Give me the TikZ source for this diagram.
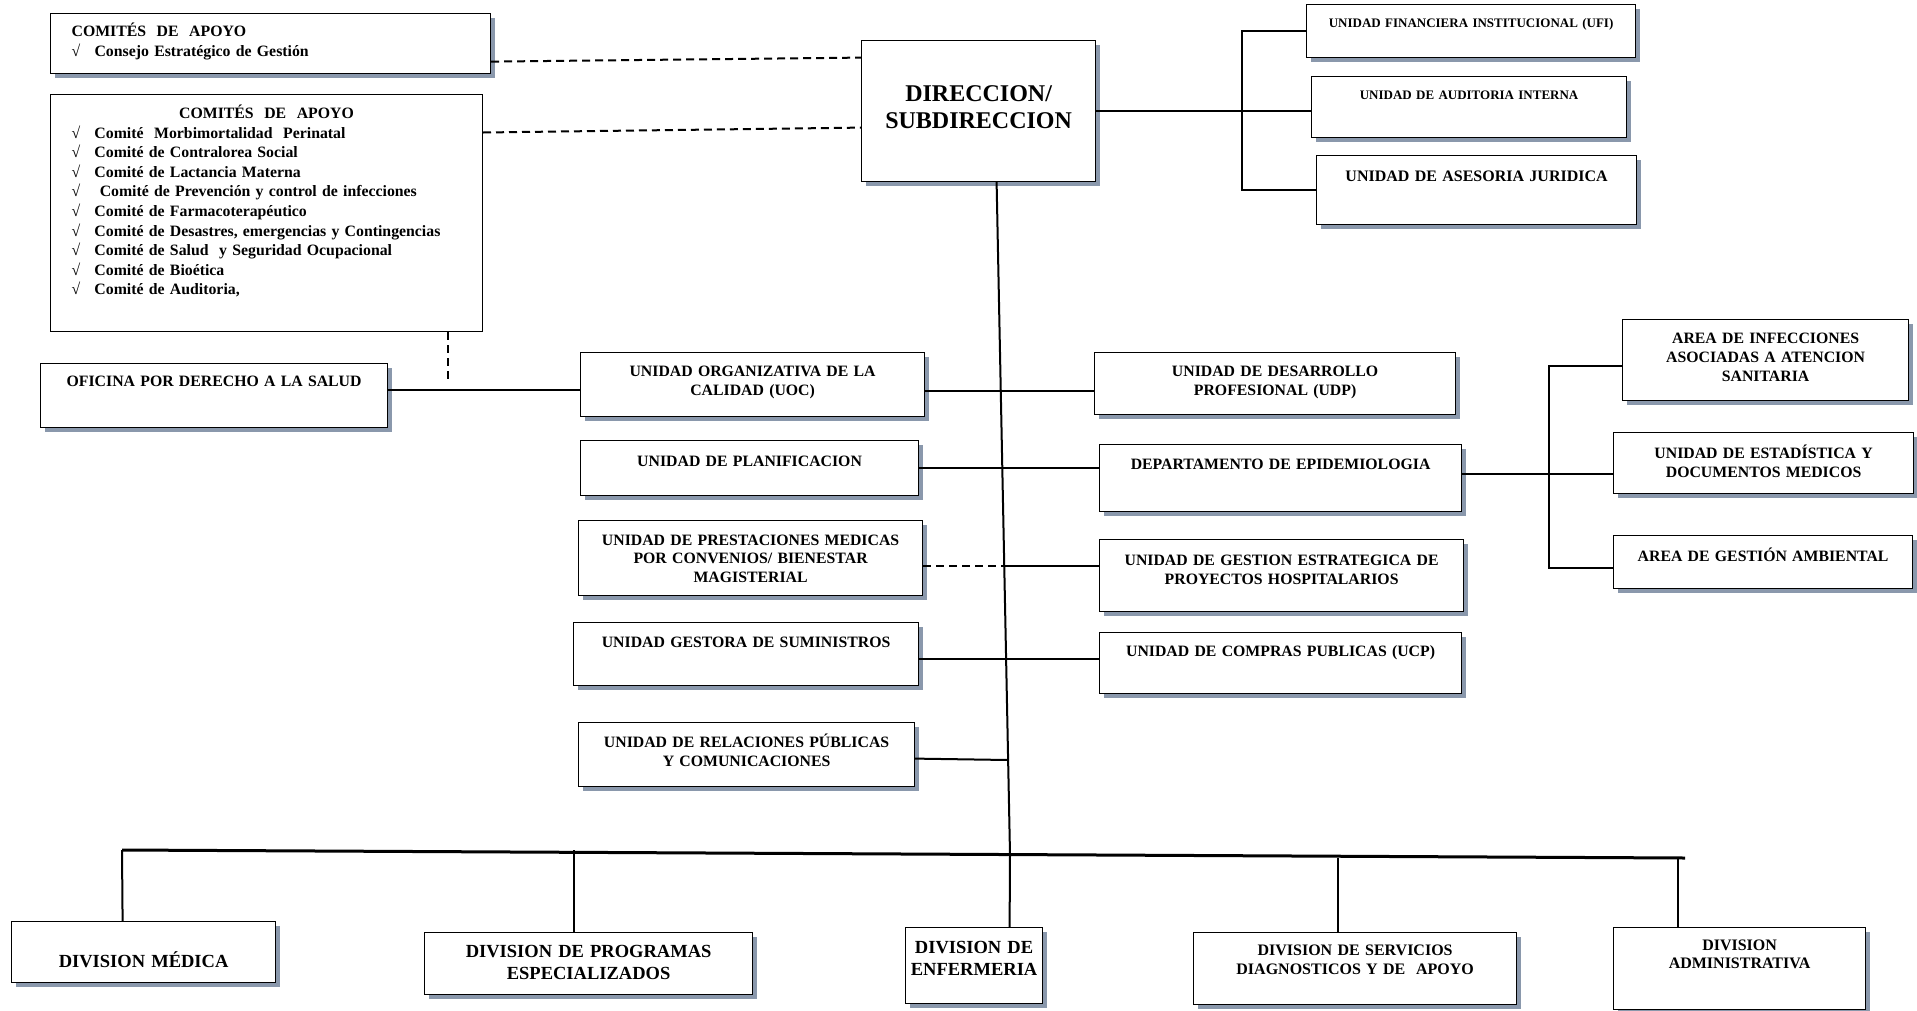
\documentclass[tikz,border=0pt]{standalone}
\usepackage{fontspec}
\setmainfont{Liberation Serif}
\usetikzlibrary{shadows}

\definecolor{shadowblue}{RGB}{138,152,172}

\begin{document}
\begin{tikzpicture}[x=1pt, y=-1pt,
  every node/.style={font=\bfseries\fontsize{15.8}{19}\selectfont},
  basebox/.style={draw, line width=1.2pt, fill=white, align=center, inner sep=0pt, anchor=north west},
  unitbox/.style={basebox, drop shadow={shadow xshift=4pt, shadow yshift=-4pt, fill=shadowblue, opacity=1}},
  combox/.style={align=left, inner xsep=21pt, font=\bfseries\fontsize{15.8}{19.6}\selectfont},
  divbig/.style={font=\bfseries\fontsize{18.5}{22}\selectfont},
  divsmall/.style={font=\bfseries\fontsize{16}{19}\selectfont},
  link/.style={line width=2pt},
  dotlink/.style={line width=2pt, dash pattern=on 8pt off 5pt}]
	\useasboundingbox (0,0) rectangle (1917,1010);

	% comites y direccion
	\node[unitbox, combox, text width=398pt, text height=23pt, text depth=37pt] (com1) at (50,13)
		{COMITÉS~ DE~ APOYO\\\makebox[23pt][l]{√}Consejo Estratégico de Gestión};
	\node[basebox, combox, line width=1pt, text width=390pt, text height=24pt, text depth=213pt] (com2) at (50,94)
		{\makebox[\linewidth]{COMITÉS~ DE~ APOYO}\\
		\makebox[23pt][l]{√}Comité~ Morbimortalidad~ Perinatal\\
		\makebox[23pt][l]{√}Comité de Contralorea Social\\
		\makebox[23pt][l]{√}Comité de Lactancia Materna\\
		\makebox[23pt][l]{√}\ Comité de Prevención y control de infecciones\\
		\makebox[23pt][l]{√}Comité de Farmacoterapéutico\\
		\makebox[23pt][l]{√}Comité de Desastres, emergencias y Contingencias\\
		\makebox[23pt][l]{√}Comité de Salud~ y Seguridad Ocupacional\\
		\makebox[23pt][l]{√}Comité de Bioética\\
		\makebox[23pt][l]{√}Comité de Auditoria,};
	\node[unitbox, text width=347pt, text height=23pt, text depth=41pt] (ofi) at (40,363) {OFICINA POR DERECHO A LA SALUD};
	\node[unitbox, text width=234pt, text height=61pt, text depth=80pt, font=\bfseries\fontsize{24}{27}\selectfont] (dir) at (861,40) {DIRECCION/\\SUBDIRECCION};

	% unidades staff
	\node[unitbox, text width=329pt, text height=22.5pt, text depth=30.5pt, font=\bfseries\fontsize{13}{16}\selectfont] (ufi) at (1306,4) {UNIDAD FINANCIERA INSTITUCIONAL (UFI)};
	\node[unitbox, text width=315pt, text height=22.5pt, text depth=38.5pt, font=\bfseries\fontsize{13}{16}\selectfont] (aud) at (1311,76) {UNIDAD DE AUDITORIA INTERNA};
	\node[unitbox, text width=320pt, text height=25.5pt, text depth=43.5pt, font=\bfseries\fontsize{16}{19}\selectfont] (ase) at (1316,155) {UNIDAD DE ASESORIA JURIDICA};

	\node[unitbox, text width=344pt, text height=23.5pt, text depth=40.5pt] (uoc) at (580,352) {UNIDAD ORGANIZATIVA DE LA\\CALIDAD (UOC)};
	\node[unitbox, text width=338pt, text height=25.5pt, text depth=29.5pt] (plan) at (580,440) {UNIDAD DE PLANIFICACION};
	\node[unitbox, text width=344pt, text height=24.5pt, text depth=50.5pt, font=\bfseries\fontsize{15.8}{18.5}\selectfont] (pres) at (578,520) {UNIDAD DE PRESTACIONES MEDICAS\\POR CONVENIOS/ BIENESTAR\\MAGISTERIAL};
	\node[unitbox, text width=345pt, text height=24.5pt, text depth=38.5pt] (gest) at (573,622) {UNIDAD GESTORA DE SUMINISTROS};
	\node[unitbox, text width=336pt, text height=24.5pt, text depth=39.5pt] (rel) at (578,722) {UNIDAD DE RELACIONES PÚBLICAS\\Y COMUNICACIONES};

	\node[unitbox, text width=361pt, text height=23.5pt, text depth=38.5pt] (udp) at (1094,352) {UNIDAD DE DESARROLLO\\PROFESIONAL (UDP)};
	\node[unitbox, text width=362pt, text height=24.5pt, text depth=42.5pt] (epi) at (1099,444) {DEPARTAMENTO DE EPIDEMIOLOGIA};
	\node[unitbox, text width=364pt, text height=25.5pt, text depth=46.5pt] (gep) at (1099,539) {UNIDAD DE GESTION ESTRATEGICA DE\\PROYECTOS HOSPITALARIOS};
	\node[unitbox, text width=362pt, text height=23.5pt, text depth=37.5pt] (ucp) at (1099,632) {UNIDAD DE COMPRAS PUBLICAS (UCP)};

	\node[unitbox, text width=286pt, text height=23.5pt, text depth=57.5pt] (iaas) at (1622,319) {AREA DE INFECCIONES\\ASOCIADAS A ATENCION\\SANITARIA};
	\node[unitbox, text width=300pt, text height=25.5pt, text depth=35.5pt] (est) at (1613,432) {UNIDAD DE ESTADÍSTICA Y\\DOCUMENTOS MEDICOS};
	\node[unitbox, text width=299pt, text height=25.5pt, text depth=27.5pt] (amb) at (1613,535) {AREA DE GESTIÓN AMBIENTAL};

	% divisiones
	\node[unitbox, divbig, text width=264pt, text height=46pt, text depth=15pt] (dmed) at (11,921) {DIVISION MÉDICA};
	\node[unitbox, divbig, text width=328pt, text height=25pt, text depth=37pt] (dprog) at (424,932) {DIVISION DE PROGRAMAS\\ESPECIALIZADOS};
	\node[unitbox, divbig, text width=137pt, text height=26pt, text depth=50pt] (denf) at (905,927) {DIVISION DE\\ENFERMERIA};
	\node[unitbox, divsmall, text width=323pt, text height=23pt, text depth=49pt] (dserv) at (1193,932) {DIVISION DE SERVICIOS\\DIAGNOSTICOS Y DE~ APOYO};
	\node[unitbox, divsmall, text width=252pt, text height=23pt, text depth=59pt, font=\bfseries\fontsize{16}{18}\selectfont] (dadm) at (1613,927) {DIVISION\\ADMINISTRATIVA};

	\coordinate (busw) at (122,850);
	\coordinate (buse) at (1685,858);
	\coordinate (bus) at (1010,854.5);
	\coordinate (tp) at (1004,566);
	\coordinate (tr) at (1008,760);

	% conectores
	\draw[dotlink] ([yshift=-18pt]com1.east) -- ([yshift=53.5pt]dir.west);
	\draw[dotlink] ([yshift=80.5pt]com2.east) -- ([yshift=-16.5pt]dir.west);
	\draw[link] ([yshift=6pt]ofi.east) coordinate (ofij) -- (ofij -| uoc.west);
	\draw[dotlink] ([xshift=181pt]com2.south) -- ([xshift=181pt,yshift=6pt]com2.south |- ofij);

	\draw[link] (dir.east) -- (dir.east -| aud.west);
	\draw[link] (ufi.west) -- ++(-64pt,0pt) |- (ase.west);

	\draw[link] ([xshift=18pt]dir.south) -- (bus);
	\draw[link] ([yshift=-6pt]uoc.east) -- ([yshift=-6pt]uoc.east -| udp.west);
	\draw[link] (plan.east) -- (plan.east -| epi.west);
	\draw[dotlink] (pres.east |- tp) -- (tp);
	\draw[link] (tp) -- (tp -| gep.west);
	\draw[link] ([yshift=-4.5pt]gest.east) -- ([yshift=-4.5pt]gest.east -| ucp.west);
	\draw[link] ([yshift=-4pt]rel.east) -- (tr);

	\draw[link] ([yshift=4pt]epi.east) -- ([yshift=4pt]epi.east -| est.west);
	\draw[link] ([yshift=-6pt]iaas.west) -- ++(-73pt,0pt) |- ([yshift=-6pt]amb.west);

	\draw[line width=3pt] (busw) -- (buse);
	\draw[link] (busw) -- ([xshift=-21pt]dmed.north);
	\draw[link] ([xshift=-15pt]dprog.north |- busw) -- ([xshift=-15pt]dprog.north);
	\draw[link] (bus) -- ([xshift=35.5pt]denf.north);
	\draw[link] ([xshift=-17.5pt]dserv.north |- buse) -- ([xshift=-17.5pt]dserv.north);
	\draw[link] ([xshift=-62pt]dadm.north |- buse) -- ([xshift=-62pt]dadm.north);
\end{tikzpicture}
\end{document}
